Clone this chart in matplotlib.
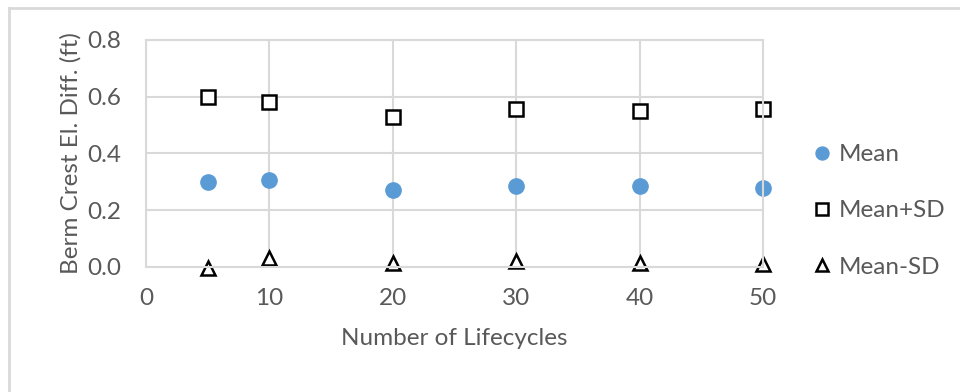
import matplotlib.pyplot as plt
from matplotlib.lines import Line2D

plt.rcParams['font.family'] = ['Lato', 'DejaVu Sans']

# data
lifecycles = [5, 10, 20, 30, 40, 50]
mean = [0.30, 0.305, 0.27, 0.285, 0.285, 0.28]
mean_plus_sd = [0.60, 0.58, 0.53, 0.555, 0.55, 0.555]
mean_minus_sd = [-0.005, 0.03, 0.015, 0.02, 0.015, 0.01]

grey = "#595959"
grid = "#d9d9d9"
fs = 17.5

fig = plt.figure(figsize=(9.6, 3.92), dpi=100)
ax = fig.add_axes([0.152, 0.319, 0.643, 0.579])

ax.plot(lifecycles, mean, "o", color="#5b9bd5", markersize=11, label="Mean", clip_on=False)
ax.plot(lifecycles, mean_plus_sd, "s", mfc="white", mec="black", mew=1.8,
        markersize=9.5, label="Mean+SD", clip_on=False)
ax.plot(lifecycles, mean_minus_sd, "^", mfc="white", mec="black", mew=1.8,
        markersize=9.5, label="Mean-SD", clip_on=False)

ax.set_xlim(0, 50)
ax.set_ylim(0, 0.8)
ax.set_xticks(range(0, 51, 10))
ax.set_yticks([0.0, 0.2, 0.4, 0.6, 0.8])
ax.set_yticklabels([f"{v:.1f}" for v in [0.0, 0.2, 0.4, 0.6, 0.8]])
ax.grid(True, color=grid, linewidth=1.5)
ax.set_axisbelow(True)
for s in ax.spines.values():
    s.set_color(grid)
    s.set_linewidth(1.5)
ax.tick_params(length=0, labelsize=fs, colors=grey)
ax.tick_params(axis="y", pad=18)
ax.tick_params(axis="x", pad=15)

ax.set_xlabel("Number of Lifecycles", fontsize=fs, color=grey, labelpad=14)
ax.set_ylabel("Berm Crest El. Diff. (ft)", fontsize=fs, color=grey, labelpad=4)

leg = fig.legend(loc="center left", bbox_to_anchor=(0.822, 0.462), frameon=False,
                 fontsize=fs, labelspacing=1.45, handletextpad=0.25,
                 handlelength=0.9, markerscale=0.85)
for t in leg.get_texts():
    t.set_color(grey)

# chart area border (top and left edges only are visible)
fig.add_artist(Line2D([0.0095, 1.0], [0.98, 0.98], transform=fig.transFigure,
                      color=grid, linewidth=2))
fig.add_artist(Line2D([0.0095, 0.0095], [0.0, 0.98], transform=fig.transFigure,
                      color=grid, linewidth=2))

fig.savefig("out.png", dpi=100)
